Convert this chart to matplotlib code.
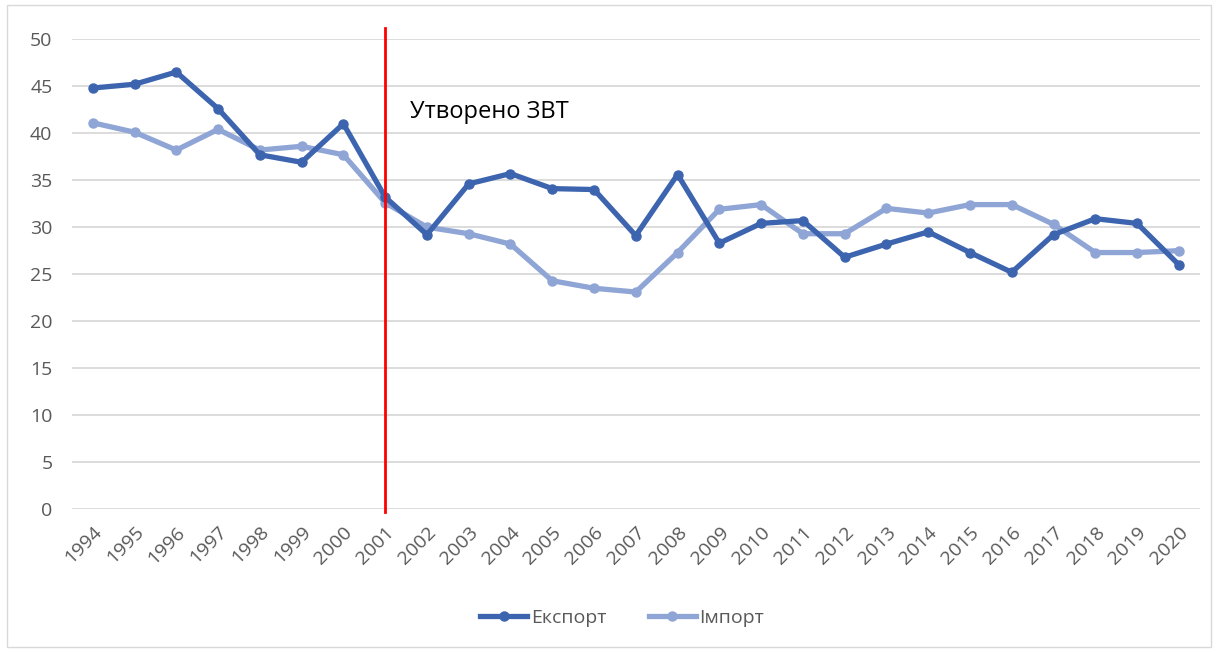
import matplotlib.pyplot as plt
from matplotlib.patches import Rectangle
import numpy as np

years = [str(y) for y in range(1994, 2021)]

export_vals = [44.8, 45.2, 46.5, 42.6, 37.7, 36.9, 41.0, 33.2, 29.2, 34.6,
               35.7, 34.1, 34.0, 29.1, 35.6, 28.3, 30.4, 30.7, 26.8, 28.2,
               29.5, 27.3, 25.2, 29.2, 30.9, 30.4, 26.0]
import_vals = [41.1, 40.1, 38.2, 40.4, 38.2, 38.6, 37.7, 32.6, 30.0, 29.3,
               28.2, 24.3, 23.5, 23.1, 27.3, 31.9, 32.4, 29.3, 29.3, 32.0,
               31.5, 32.4, 32.4, 30.3, 27.3, 27.3, 27.5]

event_year = "2001"
event_label = "Утворено ЗВТ"

plt.rcParams['font.family'] = ['Open Sans', 'DejaVu Sans']

fig = plt.figure(figsize=(12.18, 6.52), dpi=100)
ax = fig.add_axes([0.059, 0.219, 0.926, 0.721])

x = np.arange(len(years))
ax.plot(x, export_vals, color='#3D64AE', lw=3.8, marker='o', ms=6.5,
        solid_joinstyle='round', label='Експорт', zorder=3)
ax.plot(x, import_vals, color='#8FA5D5', lw=3.8, marker='o', ms=6.5,
        solid_joinstyle='round', label='Імпорт', zorder=2)

# vertical marker for the FTA year
xe = years.index(event_year)
ax.plot([xe, xe], [-0.3, 51.2], color='#FF0000', lw=2, clip_on=False, zorder=4)
ax.text(xe + 0.6, 42.3, event_label, fontsize=17, color='black', va='center')

ax.set_xlim(-0.5, len(years) - 0.5)
ax.set_ylim(0, 50)
ax.set_yticks(range(0, 51, 5))
ax.set_xticks(x)
ax.set_xticklabels(years, rotation=45, ha='right', rotation_mode='anchor')
ax.tick_params(axis='both', length=0, labelsize=14, labelcolor='#595959')
ax.tick_params(axis='y', pad=14)
ax.tick_params(axis='x', pad=10)
ax.grid(axis='y', color='#D9D9D9', lw=1.3)
ax.set_axisbelow(True)
for s in ax.spines.values():
    s.set_visible(False)

ax.legend(loc='center', bbox_to_anchor=(0.488, -0.232), ncol=2, frameon=False,
          fontsize=14, labelcolor='#595959', handlelength=2.4, columnspacing=2.2,
          handletextpad=0.2)

fig.patches.append(Rectangle((0.006, 0.008), 0.988, 0.984, transform=fig.transFigure,
                             fill=False, edgecolor='#D9D9D9', lw=1))

fig.savefig('out.png', dpi=100)
